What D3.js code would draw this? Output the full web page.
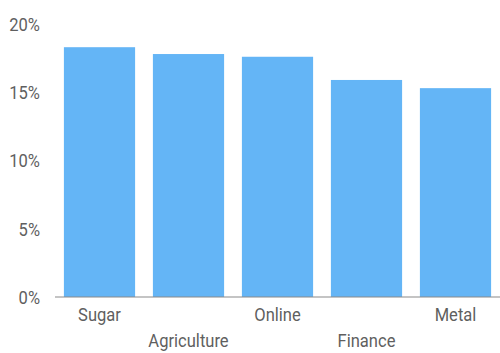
<!DOCTYPE html>
<html>
<head>
<meta charset="utf-8">
<script src="https://cdn.jsdelivr.net/npm/d3@7"></script>
<style>
  html, body { margin: 0; padding: 0; background: #fff; }
  svg { display: block; }
  text { font-family: Roboto, "Noto Sans", sans-serif; fill: #5f5f5f; }
</style>
</head>
<body>
<svg id="chart" width="500" height="353"></svg>
<script>
const categories = ["Sugar", "Agriculture", "Online", "Finance", "Metal"];
const shares = [18.3, 17.8, 17.6, 15.9, 15.3];
const yTicks = [0, 5, 10, 15, 20];

const width = 500, height = 353;
const margin = { top: 24, right: 0, bottom: 56, left: 55 };

const svg = d3.select("#chart");

const x = d3.scaleBand()
  .domain(categories)
  .range([margin.left, width - margin.right])
  .paddingInner(0.2)
  .paddingOuter(0.1);

const y = d3.scaleLinear()
  .domain([0, 20])
  .range([height - margin.bottom, margin.top]);

// bars
svg.append("g")
  .selectAll("rect")
  .data(categories)
  .join("rect")
  .attr("x", d => x(d))
  .attr("y", (d, i) => y(shares[i]))
  .attr("width", x.bandwidth())
  .attr("height", (d, i) => y(0) - y(shares[i]))
  .attr("fill", "#64b5f6");

// y axis labels (no axis line, no ticks)
const yAxis = d3.axisLeft(y)
  .tickValues(yTicks)
  .tickFormat(d => d + "%")
  .tickSize(0)
  .tickPadding(0);

const gy = svg.append("g")
  .attr("transform", `translate(40,0)`)
  .call(yAxis);
gy.select(".domain").remove();
gy.selectAll(".tick text")
  .attr("x", 0)
  .attr("dy", "0.35em")
  .attr("font-size", 18)
  .attr("fill", "#5f5f5f")
  .attr("transform", "scale(0.92,1)")
  .style("font-family", "Roboto, sans-serif");

// x axis with staggered category labels
const xAxis = d3.axisBottom(x).tickSize(0).tickPadding(0);
const gx = svg.append("g")
  .attr("transform", `translate(0,${y(0)})`)
  .call(xAxis);
gx.select(".domain")
  .attr("stroke", "#8a8a8a")
  .attr("stroke-width", 1.2)
  .attr("d", `M${margin.left},0H${width}`);
gx.selectAll(".tick text")
  .attr("y", (d, i) => i % 2 === 0 ? 24 : 50)
  .attr("dy", 0)
  .attr("font-size", 18)
  .attr("fill", "#5f5f5f")
  .style("font-family", "Roboto, sans-serif");
gx.selectAll(".tick text").each(function() {
  const t = d3.select(this);
  t.attr("transform", "scale(0.92,1)");
});
</script>
</body>
</html>
